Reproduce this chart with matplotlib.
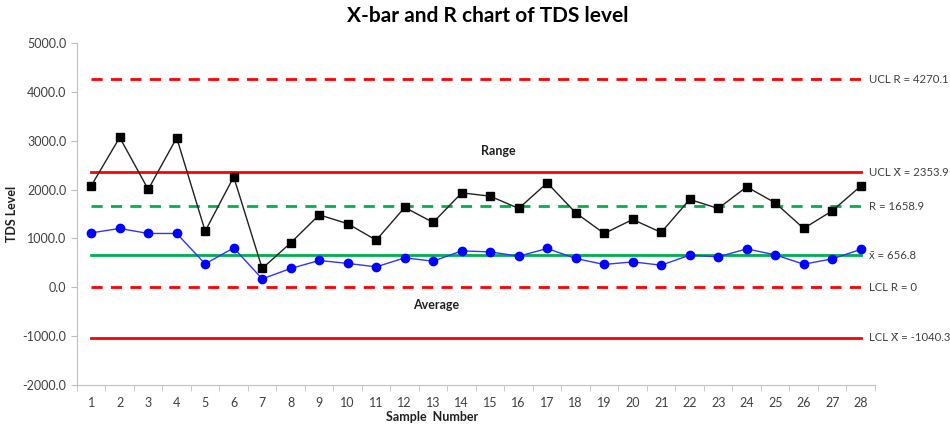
import matplotlib
matplotlib.use("Agg")
import matplotlib.pyplot as plt

plt.rcParams['font.family'] = ['Lato', 'DejaVu Sans']

samples = list(range(1, 29))
ranges = [2079, 3072, 2005, 3064, 1149, 2263, 384, 909, 1484, 1303,
          964, 1636, 1328, 1935, 1867, 1615, 2140, 1525, 1102, 1389,
          1123, 1800, 1615, 2058, 1730, 1205, 1566, 2073]
averages = [1114, 1205, 1102, 1102, 478, 806, 170, 384, 548, 488,
            417, 601, 534, 745, 724, 636, 794, 589, 466, 519,
            451, 657, 622, 786, 663, 472, 581, 774]

# control limits: (value, label, color, linestyle)
limits = [
    (4270.1, "UCL R = 4270.1", "#FF0000", "--"),
    (2353.9, "UCL X\u0304 = 2353.9", "#FF0000", "-"),
    (1658.9, "R = 1658.9", "#00B050", "--"),
    (656.8, "x\u0304 = 656.8", "#00B050", "-"),
    (0.0, "LCL R = 0", "#FF0000", "--"),
    (-1040.3, "LCL X\u0304 = -1040.3", "#FF0000", "-"),
]

fig = plt.figure(figsize=(9.5, 4.26), dpi=100)
ax = fig.add_axes([0.081, 0.097, 0.84, 0.801])

for val, label, color, ls in limits:
    ax.plot([samples[0], samples[-1]], [val, val], color=color, ls=ls, lw=2,
            dashes=(4, 3) if ls == "--" else (None, None), zorder=1)
    ax.text(28.3, val, label, va='center', ha='left', fontsize=8.2, color='#404040')

ax.plot(samples, ranges, color='#202020', lw=1, marker='s', markersize=6,
        markerfacecolor='black', markeredgecolor='black', zorder=3)
ax.plot(samples, averages, color='#3333FF', lw=1, marker='o', markersize=6,
        markerfacecolor='#0000FF', markeredgecolor='#0000FF', zorder=3)

ax.text(15.3, 2800, "Range", ha='center', va='center', fontsize=9, fontweight='bold', color='#202020')
ax.text(13.1, -370, "Average", ha='center', va='center', fontsize=9, fontweight='bold', color='#202020')

ax.set_xlim(0.5, 28.5)
ax.set_ylim(-2000, 5000)
ax.set_yticks(range(-2000, 5001, 1000))
ax.set_yticklabels([f"{v:.1f}" for v in range(-2000, 5001, 1000)])
ax.set_xticks(samples)
ax.set_xticks([i + 0.5 for i in range(0, 29)], minor=True)
ax.tick_params(axis='x', which='major', length=0, pad=9)
ax.tick_params(axis='x', which='minor', length=4, color='#BFBFBF')
ax.tick_params(axis='y', length=4, color='#BFBFBF')
ax.tick_params(labelsize=9, labelcolor='#404040')

for side in ['top', 'right']:
    ax.spines[side].set_visible(False)
for side in ['left', 'bottom']:
    ax.spines[side].set_color('#BFBFBF')

ax.set_xlabel("Sample  Number", fontsize=9, fontweight='bold', color='#202020')
ax.set_ylabel("TDS Level", fontsize=9, fontweight='bold', color='#202020')
ax.xaxis.set_label_coords(0.445, -0.078)
ax.yaxis.set_label_coords(-0.074, 0.5)

fig.suptitle("X-bar and R chart of TDS level", x=0.513, y=0.985, fontsize=15, fontweight='bold')

fig.savefig("out.png", dpi=100)
